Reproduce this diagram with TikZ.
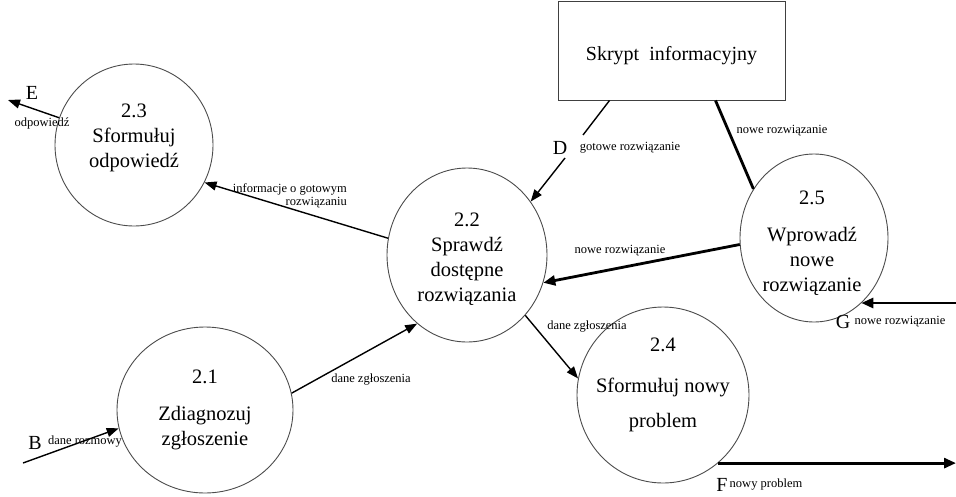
\documentclass[tikz,border=0pt]{standalone}
\usepackage{fontspec}
\setmainfont{Liberation Serif}
\usetikzlibrary{shapes.geometric,arrows.meta}

\begin{document}
\begin{tikzpicture}[x=1pt,y=-1pt,
	proc/.style={draw=black!70,line width=0.9pt,ellipse,inner sep=0pt},
	ptext/.style={align=center,font=\fontsize{20.5}{25}\selectfont,inner sep=0pt},
	flow/.style={line width=1.4pt,-{Triangle[length=12pt,width=9pt]}},
	bigflow/.style={line width=2.8pt,-{Triangle[length=12pt,width=10pt]}},
	lbl/.style={font=\fontsize{12.5}{13.5}\selectfont,inner sep=0pt},
	ext/.style={font=\fontsize{20}{24}\selectfont,inner sep=0pt}]
	\useasboundingbox (0,0) rectangle (956,496);

	%PROCESSES
	\node[proc,minimum width=158pt,minimum height=162pt] (p23) at (134,145) {};
	\node[proc,minimum width=176pt,minimum height=166pt] (p21) at (205,410) {};
	\node[proc,minimum width=160pt,minimum height=174pt] (p22) at (467,255) {};
	\node[proc,minimum width=172pt,minimum height=176pt] (p24) at (663,395) {};
	\node[proc,minimum width=148pt,minimum height=168pt] (p25) at (814,238) {};
	\node[ptext] (t23) at (134,138) {2.3\\Sformułuj\\odpowiedź};
	\node[ptext] (t21) at (205,410) {2.1\\[12pt]Zdiagnozuj\\zgłoszenie};
	\node[ptext] (t22) at (467,259) {2.2\\Sprawdź\\dostępne\\rozwiązania};
	\node[ptext] (t24) at (663,385) {2.4\\[16pt]Sformułuj nowy\\[10pt]problem};
	\node[ptext] (t25) at (812,243) {2.5\\[12pt]Wprowadź\\nowe\\rozwiązanie};

	%STORE
	\node[draw=black!75,line width=1pt,minimum width=227pt,minimum height=99pt,inner sep=0pt,
		text height=20pt,text depth=0pt,font=\fontsize{20}{24}\selectfont] (skrypt) at (671.5,50.5) {Skrypt\ \ informacyjny};

	%END POINTS
	\coordinate (e) at (8,100);
	\coordinate (b) at (23,463);
	\coordinate (g) at (956,303);
	\coordinate (f) at (956,463);
	\coordinate (d0) at ([xshift=52pt]skrypt.south west);
	\coordinate (d1) at (583,135);
	\coordinate (d2) at (565,158);
	\coordinate (n0) at ([xshift=158pt]skrypt.south west);

	%FLOWS
	\draw[flow] (p23.160) -- (e);
	\draw[flow] (b) -- (p21.192);
	\draw[flow] (p22.168) -- (p23.-28);
	\draw[flow] (p21.11) -- (p22.234);
	\draw[flow] (p22.-46) -- (p24.169);
	\draw[line width=1.4pt] (d0) -- (d1);
	\draw[flow] (d2) -- (p22.40);
	\draw[line width=2.8pt] (p25.141) -- (n0);
	\draw[bigflow] (p25.185) -- (p22.-20);
	\draw[bigflow] (g) -- (g -| p25.-54);
	\draw[bigflow] (p24.-51) -- (p24.-51 -| f);

	%LABELS
	\node[ext] (E) at (32,93) {E};
	\node[lbl] (lE) at (42,123) {odpowiedź};
	\node[lbl,align=right,anchor=east] (linf) at (347,196) {informacje o gotowym\\rozwiązaniu};
	\node[ext] (D) at (560,148) {D};
	\node[lbl] (lD) at (630,148) {gotowe rozwiązanie};
	\node[lbl] (l25a) at (782,131) {nowe rozwiązanie};
	\node[lbl] (l25b) at (620,251) {nowe rozwiązanie};
	\node[ext] (G) at (843,322) {G};
	\node[lbl] (lG) at (900,322) {nowe rozwiązanie};
	\node[lbl] (l24) at (587,327) {dane zgłoszenia};
	\node[lbl] (l21) at (371,380) {dane zgłoszenia};
	\node[ext] (B) at (35,443) {B};
	\node[lbl] (lB) at (85,442) {dane rozmowy};
	\node[ext] (F) at (722,485) {F};
	\node[lbl] (lF) at (766,485) {nowy problem};
\end{tikzpicture}
\end{document}
